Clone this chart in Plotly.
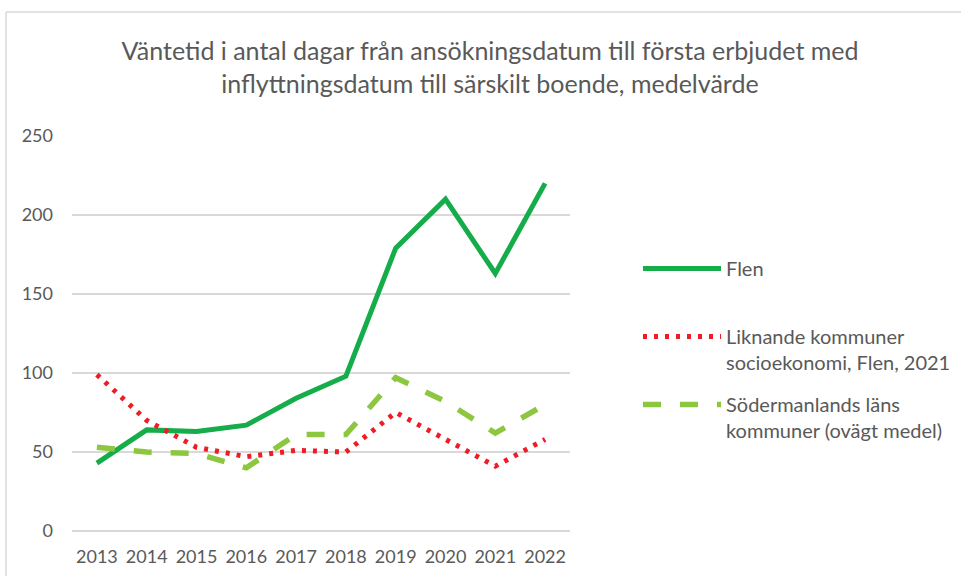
import plotly.graph_objects as go

years = ["2013", "2014", "2015", "2016", "2017", "2018", "2019", "2020", "2021", "2022"]
flen = [43, 64, 63, 67, 84, 98, 179, 210, 163, 220]
liknande = [99, 70, 53, 47, 51, 50, 75, 58, 41, 58]
sodermanland = [53, 50, 49, 40, 61, 61, 97, 82, 62, 80]

names = ["Flen", "Liknande kommuner<br>socioekonomi, Flen, 2021",
         "Södermanlands läns<br>kommuner (ovägt medel)"]

TXT = "#595959"
FONT = "Lato"

fig = go.Figure()
fig.add_trace(go.Scatter(x=years, y=flen, name=names[0], mode="lines",
                         line=dict(color="#14AD4A", width=5), legend="legend",
                         showlegend=True))
fig.add_trace(go.Scatter(x=years, y=liknande, name=names[1], mode="lines",
                         line=dict(color="#EE1C25", width=5, dash="4px,7px"),
                         legend="legend2", showlegend=True))
fig.add_trace(go.Scatter(x=years, y=sodermanland, name=names[2], mode="lines",
                         line=dict(color="#8DC63F", width=5.5, dash="18px,19px"),
                         legend="legend3", showlegend=True))

L, R, T, B = 72, 570, 136, 531
W, H = 961, 576


def px_x(x):
    return (x - L) / (R - L)


def px_y(y):
    return (B - y) / (B - T)


leg_common = dict(font=dict(family=FONT, size=20, color=TXT), bgcolor="rgba(0,0,0,0)",
                  xanchor="left", yanchor="top", itemwidth=78, valign="top",
                  borderwidth=0, visible=True)

# chart-area frame: only the top and left edges fall inside the page
frame = dict(type="line", xref="paper", yref="paper",
             line=dict(color="#D9D9D9", width=1.5), layer="below")

fig.update_layout(
    width=W, height=H,
    margin=dict(l=L, r=W - R, t=T, b=H - B, autoexpand=False),
    paper_bgcolor="white", plot_bgcolor="white",
    showlegend=True,
    font=dict(family=FONT, color=TXT),
    title=dict(text="Väntetid i antal dagar från ansökningsdatum till första erbjudet med<br>"
                    "inflyttningsdatum till särskilt boende, medelvärde",
               x=490 / W, xanchor="center", y=1 - 60 / H, yanchor="middle",
               yref="container", xref="container",
               font=dict(family=FONT, size=25, color=TXT)),
    xaxis=dict(type="category", range=[-0.5, 9.5], showgrid=False, showline=False,
               ticks="", ticklabelstandoff=13,
               tickfont=dict(family=FONT, size=18, color=TXT)),
    yaxis=dict(range=[0, 250], dtick=50, showgrid=True, gridcolor="#D9D9D9",
               gridwidth=1.5, zeroline=True, zerolinecolor="#D9D9D9", zerolinewidth=1.5,
               showline=False, ticks="", ticklabelstandoff=18,
               tickfont=dict(family=FONT, size=18, color=TXT)),
    legend=dict(x=px_x(638), y=px_y(249), **leg_common),
    legend2=dict(x=px_x(638), y=px_y(317), **leg_common),
    legend3=dict(x=px_x(638), y=px_y(385), **leg_common),
    shapes=[
        dict(frame, x0=px_x(6), x1=px_x(961), y0=px_y(12), y1=px_y(12)),
        dict(frame, x0=px_x(6), x1=px_x(6), y0=px_y(12), y1=px_y(576)),
    ],
)

fig.write_html("out.html")
